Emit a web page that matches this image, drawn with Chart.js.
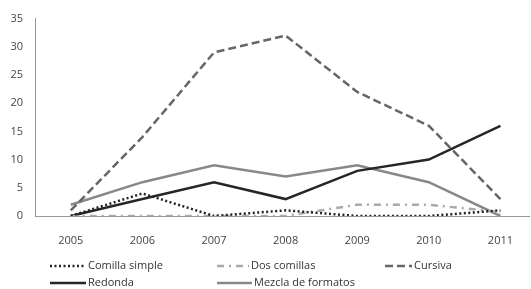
<!DOCTYPE html>
<html>
<head>
<meta charset="utf-8">
<script src="https://cdn.jsdelivr.net/npm/chart.js@4"></script>
<style>
  html, body { margin: 0; padding: 0; background: #fff; }
  #wrap { width: 531px; height: 289px; }
</style>
</head>
<body>
<div id="wrap"><canvas id="chart" width="531" height="289"></canvas></div>
<script>
const years = [2005, 2006, 2007, 2008, 2009, 2010, 2011];
const yTicks = [0, 5, 10, 15, 20, 25, 30, 35];
const comillaSimple = [0, 4, 0, 1, 0, 0, 1];
const dosComillas = [0, 0, 0, 0, 2, 2, 0.7];
const cursiva = [1, 14, 29, 32, 22, 16, 3];
const redonda = [0, 3, 6, 3, 8, 10, 16];
const mezcla = [2, 6, 9, 7, 9, 6, 0];

const pts = (vals) => vals.map((v, i) => ({ x: years[i], y: v }));

const legendSpots = [
  { x: 50, y: 266, len: 36 },
  { x: 217, y: 266, len: 32 },
  { x: 385, y: 266, len: 27 },
  { x: 50, y: 283, len: 36 },
  { x: 217, y: 283, len: 35 },
];

const legendPlugin = {
  id: "sideLegend",
  afterDraw(chart) {
    const ctx = chart.ctx;
    chart.data.datasets.forEach((ds, i) => {
      const s = legendSpots[i];
      ctx.save();
      ctx.strokeStyle = ds.borderColor;
      ctx.lineWidth = ds.borderWidth;
      ctx.setLineDash(ds.borderDash || []);
      ctx.beginPath();
      ctx.moveTo(s.x, s.y);
      ctx.lineTo(s.x + s.len, s.y);
      ctx.stroke();
      ctx.setLineDash([]);
      ctx.fillStyle = "#333";
      ctx.font = "11px 'Open Sans'";
      ctx.textBaseline = "middle";
      ctx.fillText(ds.label, s.x + s.len + 2, s.y);
      ctx.restore();
    });
  },
};

new Chart(document.getElementById("chart"), {
  type: "line",
  data: {
    datasets: [
      { label: "Comilla simple", data: pts(comillaSimple), borderColor: "#222", borderWidth: 2.5, borderDash: [2, 2.5] },
      { label: "Dos comillas", data: pts(dosComillas), borderColor: "#aaa", borderWidth: 2.5, borderDash: [7, 5, 2, 5] },
      { label: "Cursiva", data: pts(cursiva), borderColor: "#666", borderWidth: 2.5, borderDash: [8, 4] },
      { label: "Redonda", data: pts(redonda), borderColor: "#262626", borderWidth: 2.5 },
      { label: "Mezcla de formatos", data: pts(mezcla), borderColor: "#888", borderWidth: 2.5 },
    ],
  },
  options: {
    responsive: false,
    animation: false,
    layout: { padding: { top: 12, right: 0, left: 0, bottom: 0 } },
    elements: { point: { radius: 0 }, line: { tension: 0 } },
    plugins: { legend: { display: false }, tooltip: { enabled: false } },
    scales: {
      x: {
        type: "linear",
        min: 2004.5,
        max: 2011.4,
        afterBuildTicks: (scale) => { scale.ticks = years.map((v) => ({ value: v })); },
        afterFit: (scale) => { scale.height = 73; },
        grid: { display: false, drawTicks: false },
        border: { color: "#999", width: 1 },
        ticks: { color: "#444", font: { family: "'Open Sans'", size: 11 }, padding: 18, callback: (v) => String(v) },
      },
      y: {
        min: 0,
        max: 35,
        afterBuildTicks: (scale) => { scale.ticks = yTicks.map((v) => ({ value: v })); },
        afterFit: (scale) => { scale.width = 35; },
        grid: { display: false, drawTicks: false },
        border: { color: "#999", width: 1 },
        ticks: { color: "#444", font: { family: "'Open Sans'", size: 11 }, padding: 12 },
      },
    },
  },
  plugins: [legendPlugin],
});
</script>
</body>
</html>
